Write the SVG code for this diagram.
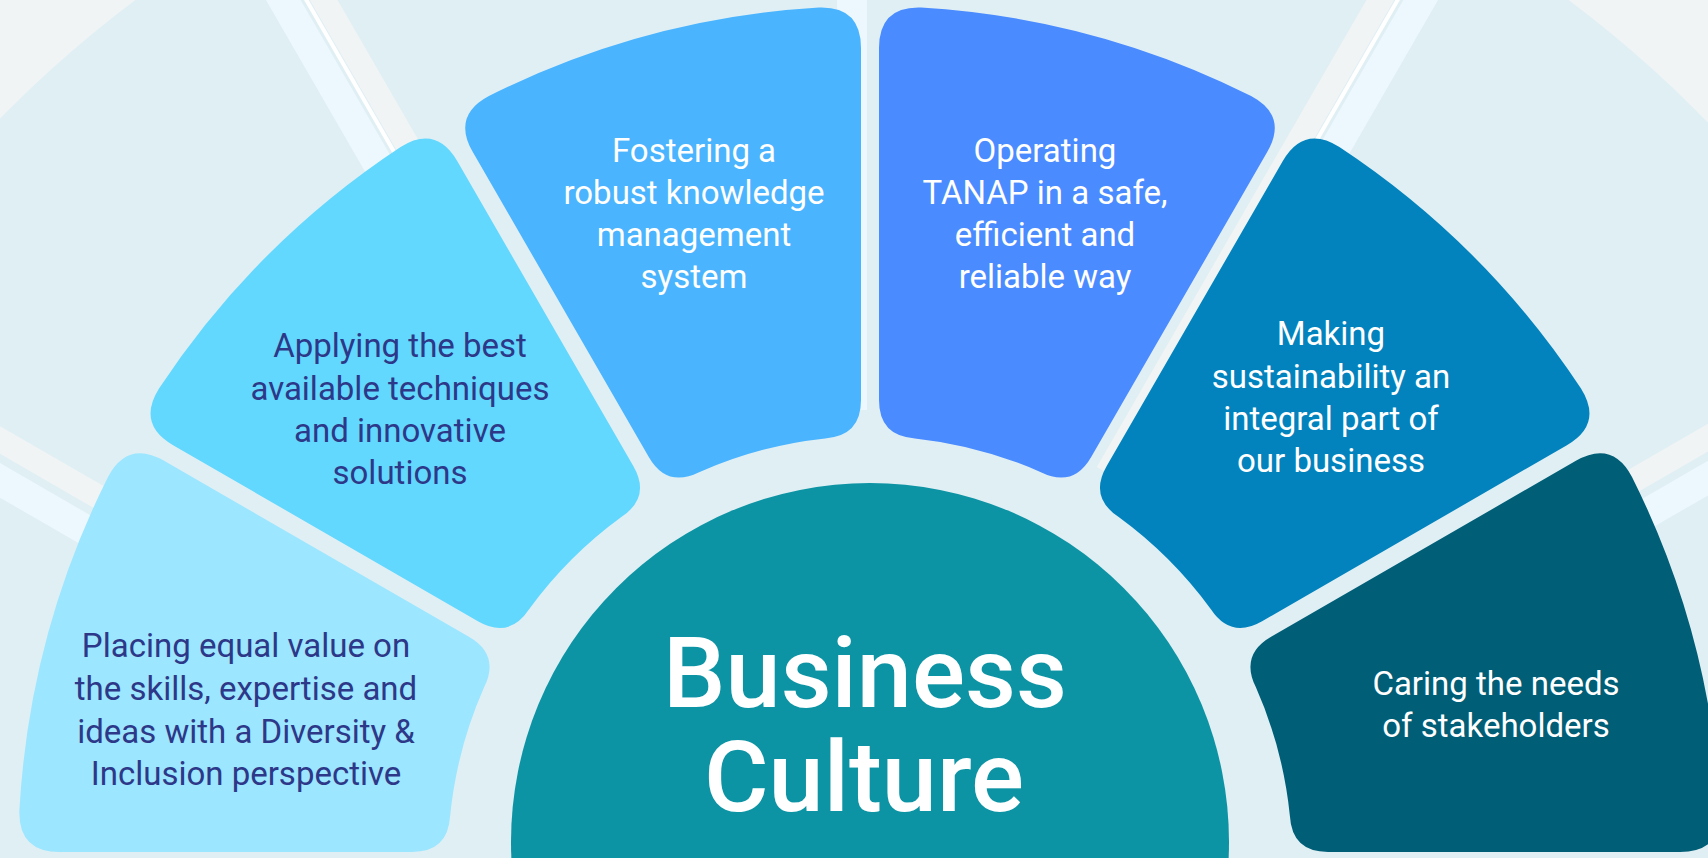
<svg xmlns="http://www.w3.org/2000/svg" width="1708" height="858" viewBox="0 0 1708 858">
  <style>
    .t { font-family: Roboto, "Liberation Sans", Arial, sans-serif; font-size: 33px; text-anchor: middle; }
    .dark { fill: #2D3888; }
    .light { fill: #FFFFFF; }
    .big { font-family: Roboto, "Liberation Sans", Arial, sans-serif; font-size: 99px; font-weight: 500; text-anchor: middle; fill: #FFFFFF; }
    .spk-l { stroke: #EDF8FE; stroke-width: 30; fill: none; }
    .spk-g { stroke: #F0F4F5; stroke-width: 24; fill: none; }
    .spk-w { stroke: #FFFFFF; stroke-width: 4; fill: none; }
  </style>
  <defs>
    <path id="shape3" d="M 861,48.1 Q 861,6.1 819,7.5 A 852 852 0 0 0 488.9,96 Q 451.8,115.7 472.8,152.1 L 648.8,456.9 Q 666.8,488.1 699.1,472.2 A 422 422 0 0 1 825.1,438.4 Q 861,436.1 861,400.1 Z"/>
    <path id="shape2" d="M 457.2,161.1 Q 436.2,124.7 400.6,147 A 852 852 0 0 0 159,388.6 Q 136.7,424.2 173.1,445.2 L 477.9,621.3 Q 509.1,639.3 529.1,609.3 A 422 422 0 0 1 621.3,517.1 Q 651.3,497.1 633.3,465.9 Z"/>
    <path id="shape1" d="M 164.1,460.8 Q 127.7,439.8 108,476.9 A 852 852 0 0 0 19.4,810 Q 18,852 60,852 L 412,852 Q 448,852 450.1,816.1 A 422 422 0 0 1 484.2,687.1 Q 500.1,654.8 468.9,636.8 Z"/>
  </defs>

  <g id="background">
    <rect x="0" y="0" width="1708" height="858" fill="#F1F4F5"/>
    <circle cx="852" cy="955" r="1194" fill="#E0EFF4"/>
    <line class="spk-l" x1="566.5" y1="490.5" x2="189" y2="-163.3"/>
    <line class="spk-g" x1="596.8" y1="473" x2="219.3" y2="-180.8"/>
    <line class="spk-w" x1="583.8" y1="480.5" x2="206.3" y2="-173.3"/>
    <line class="spk-l" x1="1137.5" y1="490.5" x2="1515" y2="-163.3"/>
    <line class="spk-g" x1="1107.2" y1="473" x2="1484.7" y2="-180.8"/>
    <line class="spk-w" x1="1120.2" y1="480.5" x2="1497.7" y2="-173.3"/>
    <line class="spk-g" x1="390" y1="665.2" x2="-263.8" y2="287.7"/>
    <line class="spk-l" x1="372.5" y1="695.5" x2="-281.3" y2="318"/>
    <line class="spk-g" x1="1314" y1="665.2" x2="1967.8" y2="287.7"/>
    <line class="spk-l" x1="1331.5" y1="695.5" x2="1985.3" y2="318"/>
    <line class="spk-l" x1="852" y1="410" x2="852" y2="-10"/>
  </g>

  <g id="connectors"></g>

  <g id="node-placing">
    <use href="#shape1" fill="#9CE6FF"/>
    <text class="t dark" x="246" y="657">Placing equal value on</text>
    <text class="t dark" x="246" y="700">the skills, expertise and</text>
    <text class="t dark" x="246" y="743">ideas with a Diversity &amp;</text>
    <text class="t dark" x="246" y="785">Inclusion perspective</text>
  </g>

  <g id="node-applying">
    <use href="#shape2" fill="#62D8FE"/>
    <text class="t dark" x="400" y="357">Applying the best</text>
    <text class="t dark" x="400" y="400">available techniques</text>
    <text class="t dark" x="400" y="442">and innovative</text>
    <text class="t dark" x="400" y="484">solutions</text>
  </g>

  <g id="node-fostering">
    <use href="#shape3" fill="#4AB4FE"/>
    <text class="t light" x="694" y="162">Fostering a</text>
    <text class="t light" x="694" y="204">robust knowledge</text>
    <text class="t light" x="694" y="246">management</text>
    <text class="t light" x="694" y="288">system</text>
  </g>

  <g id="node-operating">
    <use href="#shape3" fill="#4A8BFF" transform="matrix(-1 0 0 1 1740 0)"/>
    <text class="t light" x="1045" y="162">Operating</text>
    <text class="t light" x="1045" y="204">TANAP in a safe,</text>
    <text class="t light" x="1045" y="246">efficient and</text>
    <text class="t light" x="1045" y="288">reliable way</text>
  </g>

  <g id="node-sustainability">
    <use href="#shape2" fill="#0283BE" transform="matrix(-1 0 0 1 1740 0)"/>
    <text class="t light" x="1331" y="345">Making</text>
    <text class="t light" x="1331" y="388">sustainability an</text>
    <text class="t light" x="1331" y="430">integral part of</text>
    <text class="t light" x="1331" y="472">our business</text>
  </g>

  <g id="node-caring">
    <use href="#shape1" fill="#005E77" transform="matrix(-1 0 0 1 1740 0)"/>
    <text class="t light" x="1496" y="695">Caring the needs</text>
    <text class="t light" x="1496" y="737">of stakeholders</text>
  </g>

  <g id="node-center">
    <circle cx="870" cy="842" r="359" fill="#0C93A4"/>
    <text class="big" x="865" y="707">Business</text>
    <text class="big" x="864" y="811">Culture</text>
  </g>
</svg>
